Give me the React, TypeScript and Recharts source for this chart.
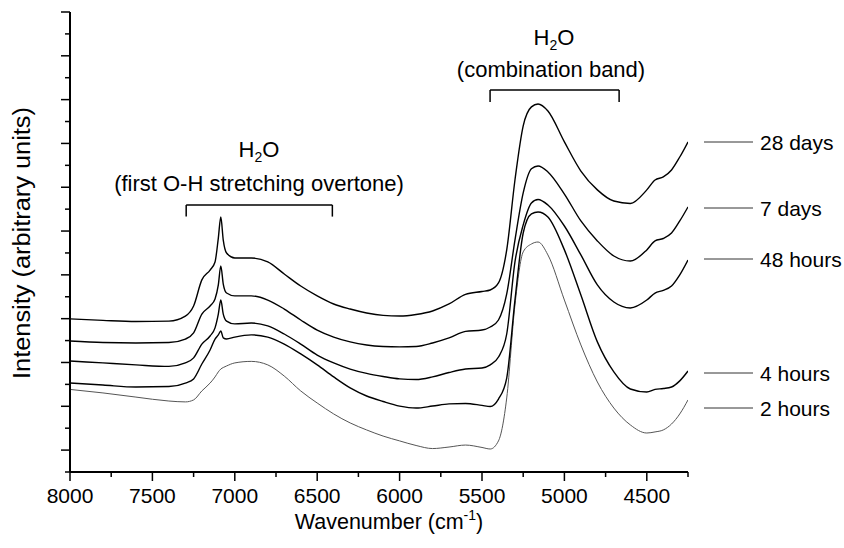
import React from "react";
import { LineChart, Line, XAxis, YAxis, ReferenceLine } from "recharts";

// wavenumber (cm-1)
const wavenumbers = [
  8000, 7800, 7600, 7400, 7300, 7250, 7200, 7150, 7120, 7100, 7085, 7070, 7050, 7000, 6900, 6800,
  6700, 6600, 6500, 6400, 6300, 6200, 6100, 6000, 5900, 5800, 5700, 5600, 5500, 5450, 5400, 5350,
  5300, 5250, 5200, 5160, 5100, 5000, 4900, 4800, 4700, 4600, 4500, 4450, 4400, 4350, 4300, 4250,
];

// intensity (arbitrary units, one unit = one y tick)
const days28 = [
  6.99, 6.92, 6.87, 6.89, 7.12, 7.58, 8.77, 9.22, 9.59, 10.68, 11.64, 10.59, 10.0, 9.77, 9.77, 9.59,
  9.04, 8.49, 8.04, 7.67, 7.44, 7.26, 7.15, 7.12, 7.19, 7.35, 7.67, 8.11, 8.24, 8.31, 8.63, 10.14,
  13.33, 15.8, 16.67, 16.8, 16.48, 15.07, 13.74, 12.88, 12.37, 12.26, 12.88, 13.33, 13.47, 13.79, 14.38, 15.07,
];
const days7 = [
  5.98, 5.91, 5.89, 5.91, 6.07, 6.35, 7.21, 7.58, 7.9, 8.54, 9.41, 8.58, 8.17, 8.04, 8.04, 7.85,
  7.44, 6.94, 6.48, 6.16, 5.94, 5.8, 5.73, 5.71, 5.73, 5.89, 6.12, 6.42, 6.48, 6.62, 6.94, 8.13,
  10.59, 12.74, 13.84, 13.97, 13.7, 12.69, 11.46, 10.55, 9.86, 9.63, 10.14, 10.55, 10.66, 10.91, 11.46, 12.1,
];
const hours48 = [
  5.07, 4.98, 4.89, 4.82, 4.98, 5.21, 5.84, 6.21, 6.58, 7.21, 7.85, 7.21, 6.89, 6.76, 6.8, 6.67,
  6.3, 5.84, 5.34, 4.98, 4.7, 4.5, 4.36, 4.25, 4.22, 4.34, 4.54, 4.7, 4.75, 4.89, 5.25, 6.3,
  9.59, 11.28, 12.28, 12.44, 12.19, 11.23, 9.91, 8.54, 7.76, 7.49, 7.85, 8.17, 8.29, 8.49, 9.0, 9.68,
];
const hours4 = [
  4.06, 3.97, 3.88, 3.9, 4.06, 4.25, 4.93, 5.57, 6.07, 6.26, 6.44, 6.12, 6.07, 6.16, 6.26, 6.16,
  5.84, 5.39, 4.89, 4.34, 3.84, 3.47, 3.22, 3.01, 2.92, 3.01, 3.11, 3.13, 3.04, 2.99, 3.33, 4.29,
  7.85, 10.91, 11.78, 11.87, 11.64, 10.14, 8.08, 5.94, 4.57, 3.79, 3.65, 3.77, 3.81, 3.88, 4.16, 4.61,
];
const hours2 = [
  3.77, 3.61, 3.42, 3.24, 3.2, 3.29, 3.7, 4.06, 4.34, 4.57, 4.7, 4.77, 4.84, 4.98, 5.05, 4.89,
  4.38, 3.7, 3.15, 2.65, 2.24, 1.92, 1.64, 1.42, 1.21, 1.07, 1.14, 1.23, 1.12, 1.05, 1.42, 3.38,
  7.63, 10.05, 10.41, 10.5, 9.91, 7.85, 5.8, 4.11, 2.92, 2.15, 1.78, 1.83, 1.92, 2.19, 2.65, 3.29,
];

const xTicks = [8000, 7750, 7500, 7250, 7000, 6750, 6500, 6250, 6000, 5750, 5500, 5250, 5000, 4750, 4500, 4250];
const yTicks = Array.from({ length: 22 }, (_, i) => i);

const legendItems = [
  { label: "28 days", y: 142 },
  { label: "7 days", y: 208 },
  { label: "48 hours", y: 259 },
  { label: "4 hours", y: 373 },
  { label: "2 hours", y: 408 },
];

const data = wavenumbers.map((wn, i) => ({
  wn,
  d28: days28[i],
  d7: days7[i],
  h48: hours48[i],
  h4: hours4[i],
  h2: hours2[i],
}));

const FONT = "'Liberation Sans', Arial, sans-serif";

function XTick(props: any) {
  const { x, y, payload } = props;
  const major = payload.value % 500 === 0;
  return (
    <g>
      <line x1={x} x2={x} y1={y} y2={y + (major ? 9 : 5)} stroke="#000" strokeWidth={1.5} />
      {major && (
        <text x={x} y={y + 31} textAnchor="middle" fontSize={21} fontFamily={FONT} fill="#000">
          {payload.value}
        </text>
      )}
    </g>
  );
}

function YTick(props: any) {
  const { x, y, payload } = props;
  const major = payload.value % 2 === 1;
  return <line x1={x - (major ? 9 : 5)} x2={x} y1={y} y2={y} stroke="#000" strokeWidth={1.5} />;
}

export default function App() {
  return (
    <div style={{ position: "absolute", left: 0, top: 0, width: 844, height: 548, background: "#fff" }}>
      <LineChart width={844} height={548} data={data} margin={{ top: 12, right: 156, bottom: 0, left: 0 }}>
        <XAxis
          dataKey="wn"
          type="number"
          domain={[4250, 8000]}
          reversed
          allowDataOverflow
          ticks={xTicks}
          interval={0}
          height={76}
          tickSize={0}
          tickMargin={0}
          tickLine={false}
          axisLine={{ stroke: "#000", strokeWidth: 2 }}
          tick={<XTick />}
        />
        <YAxis
          type="number"
          domain={[0, 21]}
          ticks={yTicks}
          interval={0}
          width={70}
          tickSize={0}
          tickMargin={0}
          tickLine={false}
          axisLine={{ stroke: "#000", strokeWidth: 2 }}
          tick={<YTick />}
        />
        <ReferenceLine segment={[{ x: 7295, y: 11.66 }, { x: 7295, y: 12.19 }]} stroke="#000" strokeWidth={1.5} />
        <ReferenceLine segment={[{ x: 7295, y: 12.19 }, { x: 6408, y: 12.19 }]} stroke="#000" strokeWidth={1.5} />
        <ReferenceLine segment={[{ x: 6408, y: 12.19 }, { x: 6408, y: 11.66 }]} stroke="#000" strokeWidth={1.5} />
        <ReferenceLine segment={[{ x: 5451, y: 16.89 }, { x: 5451, y: 17.44 }]} stroke="#000" strokeWidth={1.5} />
        <ReferenceLine segment={[{ x: 5451, y: 17.44 }, { x: 4668, y: 17.44 }]} stroke="#000" strokeWidth={1.5} />
        <ReferenceLine segment={[{ x: 4668, y: 17.44 }, { x: 4668, y: 16.89 }]} stroke="#000" strokeWidth={1.5} />
        <Line type="monotone" dataKey="h2" stroke="#555" strokeWidth={1} dot={false} isAnimationActive={false} />
        <Line type="monotone" dataKey="h4" stroke="#000" strokeWidth={1.4} dot={false} isAnimationActive={false} />
        <Line type="monotone" dataKey="h48" stroke="#000" strokeWidth={1.4} dot={false} isAnimationActive={false} />
        <Line type="monotone" dataKey="d7" stroke="#000" strokeWidth={1.4} dot={false} isAnimationActive={false} />
        <Line type="monotone" dataKey="d28" stroke="#000" strokeWidth={1.4} dot={false} isAnimationActive={false} />
      </LineChart>
      <svg
        width={844}
        height={548}
        style={{ position: "absolute", left: 0, top: 0, pointerEvents: "none" }}
        fontFamily={FONT}
        fill="#000"
      >
        <text x={259} y={157} textAnchor="middle" fontSize={22}>
          H<tspan fontSize={14} dy={5}>2</tspan>
          <tspan dy={-5}>O</tspan>
        </text>
        <text x={259} y={191} textAnchor="middle" fontSize={22}>
          (first O-H stretching overtone)
        </text>
        <text x={554} y={45} textAnchor="middle" fontSize={22}>
          H<tspan fontSize={14} dy={5}>2</tspan>
          <tspan dy={-5}>O</tspan>
        </text>
        <text x={551} y={77} textAnchor="middle" fontSize={22}>
          (combination band)
        </text>
        <text x={389} y={529} textAnchor="middle" fontSize={21.5}>
          Wavenumber (cm<tspan fontSize={14} dy={-9}>-1</tspan>
          <tspan dy={9}>)</tspan>
        </text>
        <text
          transform="translate(30,243) rotate(-90)"
          textAnchor="middle"
          fontSize={23}
          textLength={272}
          lengthAdjust="spacingAndGlyphs"
        >
          Intensity (arbitrary units)
        </text>
        {legendItems.map((it) => (
          <g key={it.label}>
            <line x1={704} x2={753} y1={it.y} y2={it.y} stroke="#333" strokeWidth={1} />
            <text x={760} y={it.y + 7.5} fontSize={21}>
              {it.label}
            </text>
          </g>
        ))}
      </svg>
    </div>
  );
}
